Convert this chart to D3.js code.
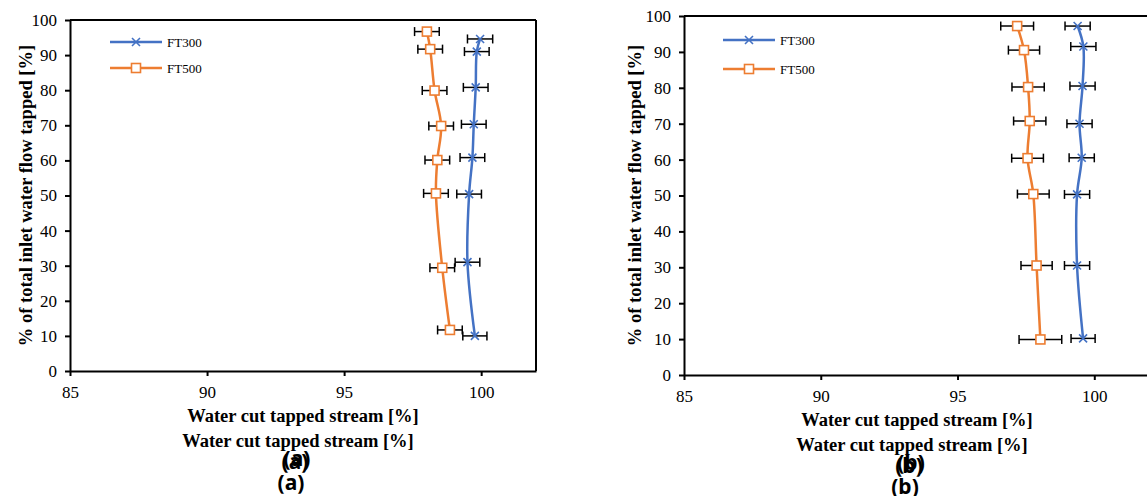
<!DOCTYPE html>
<html>
<head>
<meta charset="utf-8">
<script src="https://cdn.jsdelivr.net/npm/d3@7"></script>
<style>
  body { margin: 0; background: #fff; }
  svg { display: block; }
  .axis path, .axis line { stroke: #000; stroke-width: 2px; }
  .title { font-family: "Liberation Serif", serif; font-weight: bold; font-size: 18.5px; }
  .lbl { font-family: "Noto Sans", sans-serif; font-weight: bold; font-size: 21px; }
  .leg { font-family: "Liberation Serif", serif; font-size: 13px; }
</style>
</head>
<body>
<svg width="1147" height="496"></svg>
<script>
// flow tapped [%] (y) and water cut [%] (x)
var flowA300 = [10.0, 31.0, 50.4, 60.8, 70.3, 80.8, 91.0, 94.6];
var cutA300  = [99.77, 99.5, 99.56, 99.68, 99.73, 99.8, 99.84, 99.96];
var errA300  = [0.44, 0.45, 0.45, 0.45, 0.45, 0.45, 0.45, 0.46];
var flowA500 = [11.7, 29.4, 50.6, 60.1, 69.8, 79.9, 91.7, 96.7];
var cutA500  = [98.86, 98.58, 98.35, 98.4, 98.54, 98.3, 98.14, 98.02];
var errA500  = [0.45, 0.45, 0.45, 0.45, 0.45, 0.45, 0.45, 0.45];

var flowB300 = [10.2, 30.5, 50.3, 60.5, 70.0, 80.5, 91.5, 97.2];
var cutB300  = [99.59, 99.37, 99.37, 99.54, 99.46, 99.57, 99.6, 99.39];
var errB300  = [0.44, 0.46, 0.46, 0.46, 0.46, 0.46, 0.46, 0.46];
var flowB500 = [9.9, 30.5, 50.4, 60.4, 70.75, 80.2, 90.5, 97.2];
var cutB500  = [98.03, 97.89, 97.77, 97.56, 97.64, 97.58, 97.43, 97.18];
var errB500  = [0.78, 0.57, 0.58, 0.58, 0.59, 0.59, 0.57, 0.6];

var xTicks = [85, 90, 95, 100];
var yTicks = [0, 10, 20, 30, 40, 50, 60, 70, 80, 90, 100];
var seriesNames = ["FT300", "FT500"];

var blue = "#4472C4", orange = "#ED7D31";
var svg = d3.select("svg");

function zip(ys, xs, es) {
  return ys.map(function(y, i) { return {y: y, x: xs[i], e: es[i]}; });
}

function drawChart(cfg) {
  var g = svg.append("g");
  var x = d3.scaleLinear().domain([85, 102]).range([cfg.left, cfg.right]);
  var y = d3.scaleLinear().domain([0, 100]).range([cfg.bottom, cfg.top]);

  // frame
  g.append("line").attr("x1", cfg.left).attr("x2", cfg.right).attr("y1", cfg.top).attr("y2", cfg.top)
    .attr("stroke", "#000").attr("stroke-width", 2);
  g.append("line").attr("x1", cfg.right).attr("x2", cfg.right).attr("y1", cfg.top).attr("y2", cfg.bottom)
    .attr("stroke", "#000").attr("stroke-width", 2);

  g.append("g").attr("class", "axis")
    .attr("transform", "translate(0," + cfg.bottom + ")")
    .call(d3.axisBottom(x).tickValues(xTicks).tickSize(5).tickPadding(10).tickSizeOuter(0))
    .attr("font-family", "Liberation Serif").attr("font-size", 17);
  g.append("g").attr("class", "axis")
    .attr("transform", "translate(" + cfg.left + ",0)")
    .call(d3.axisLeft(y).tickValues(yTicks).tickSize(5).tickPadding(8).tickSizeOuter(0))
    .attr("font-family", "Liberation Serif").attr("font-size", 17);
  g.selectAll(".axis text").attr("fill", "#000");

  var series = [
    {name: seriesNames[0], color: blue, data: zip(cfg.f300, cfg.c300, cfg.e300), mark: "x"},
    {name: seriesNames[1], color: orange, data: zip(cfg.f500, cfg.c500, cfg.e500), mark: "sq"}
  ];

  // error bars
  series.forEach(function(s) {
    var eb = g.append("g").attr("stroke", "#000").attr("stroke-width", 1.5);
    s.data.forEach(function(d) {
      var yy = y(d.y), x1 = x(d.x - d.e), x2 = x(d.x + d.e);
      eb.append("line").attr("x1", x1).attr("x2", x2).attr("y1", yy).attr("y2", yy);
      eb.append("line").attr("x1", x1).attr("x2", x1).attr("y1", yy - 4.5).attr("y2", yy + 4.5);
      eb.append("line").attr("x1", x2).attr("x2", x2).attr("y1", yy - 4.5).attr("y2", yy + 4.5);
    });
  });

  var line = d3.line().x(function(d) { return x(d.x); }).y(function(d) { return y(d.y); })
    .curve(d3.curveCatmullRom.alpha(0.5));

  series.forEach(function(s) {
    g.append("path").datum(s.data).attr("d", line)
      .attr("fill", "none").attr("stroke", s.color).attr("stroke-width", 2.5);
    s.data.forEach(function(d) { marker(g, s.mark, x(d.x), y(d.y), s.color); });
  });

  // legend
  series.forEach(function(s, i) {
    var ly = cfg.legY + i * cfg.legGap;
    g.append("line").attr("x1", cfg.legX).attr("x2", cfg.legX + 52).attr("y1", ly).attr("y2", ly)
      .attr("stroke", s.color).attr("stroke-width", 2.5);
    marker(g, s.mark, cfg.legX + 26, ly, s.color);
    g.append("text").attr("class", "leg").attr("x", cfg.legX + 57).attr("y", ly + 4.5).text(s.name);
  });

  // axis titles
  g.append("text").attr("class", "title").attr("text-anchor", "middle")
    .attr("transform", "translate(" + cfg.yTitleX + "," + ((cfg.top + cfg.bottom) / 2) + ") rotate(-90)")
    .text("% of total inlet water flow tapped [%]");
  g.append("text").attr("class", "title").attr("text-anchor", "middle")
    .attr("x", cfg.xTitleX).attr("y", cfg.bottom + 51).text("Water cut tapped stream [%]");
  g.append("text").attr("class", "title").attr("text-anchor", "middle")
    .attr("x", cfg.xTitleX - 5).attr("y", cfg.bottom + 76).text("Water cut tapped stream [%]");
  g.append("text").attr("class", "lbl").attr("text-anchor", "middle")
    .attr("x", cfg.xTitleX - 8).attr("y", cfg.bottom + 98).text(cfg.tag);
  g.append("text").attr("class", "lbl").attr("text-anchor", "middle")
    .attr("x", cfg.xTitleX - 6).attr("y", cfg.bottom + 95).text(cfg.tag);
  g.append("text").attr("class", "lbl").attr("text-anchor", "middle")
    .attr("x", cfg.xTitleX - 12).attr("y", cfg.bottom + 119).text(cfg.tag);
}

function marker(g, type, cx, cy, color) {
  if (type === "x") {
    var r = 4;
    g.append("path").attr("d", "M" + (cx - r) + "," + (cy - r) + "L" + (cx + r) + "," + (cy + r) +
      "M" + (cx - r) + "," + (cy + r) + "L" + (cx + r) + "," + (cy - r))
      .attr("stroke", color).attr("stroke-width", 1.6).attr("fill", "none");
  } else {
    g.append("rect").attr("x", cx - 4.5).attr("y", cy - 4.5).attr("width", 9).attr("height", 9)
      .attr("fill", "#fff").attr("stroke", color).attr("stroke-width", 1.6);
  }
}

drawChart({left: 70, right: 536, top: 20, bottom: 371,
  f300: flowA300, c300: cutA300, e300: errA300, f500: flowA500, c500: cutA500, e500: errA500,
  legX: 110, legY: 42, legGap: 26, yTitleX: 32, xTitleX: 303, tag: "(a)"});
drawChart({left: 684, right: 1149, top: 16, bottom: 375,
  f300: flowB300, c300: cutB300, e300: errB300, f500: flowB500, c500: cutB500, e500: errB500,
  legX: 723, legY: 40, legGap: 29, yTitleX: 641, xTitleX: 917, tag: "(b)"});
</script>
</body>
</html>
